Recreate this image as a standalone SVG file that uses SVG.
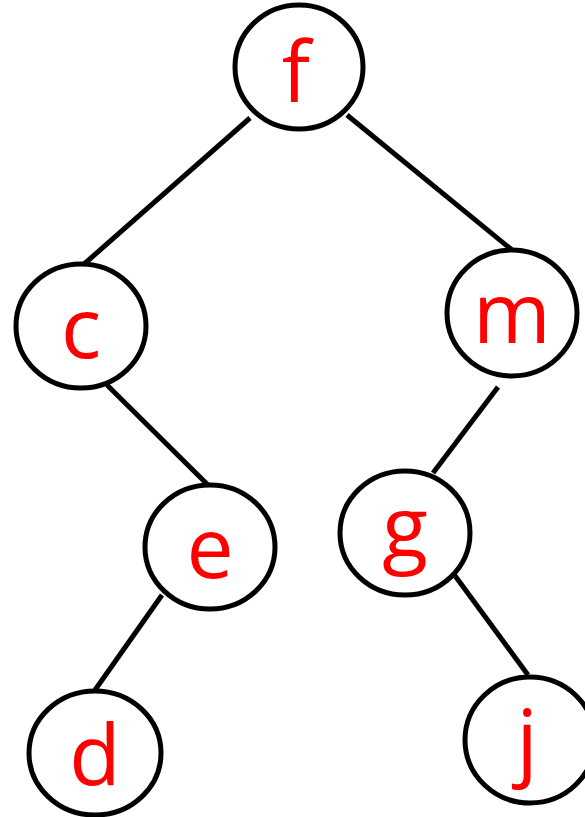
<svg xmlns="http://www.w3.org/2000/svg" width="585" height="817" viewBox="0 0 585 817">
<style>
.n{fill:#fff;stroke:#000;stroke-width:5}
.t{fill:#f00;font-family:"Open Sans","Noto Sans",sans-serif;font-size:84px;text-anchor:middle}
.e{stroke:#000;stroke-width:5;fill:none}
</style>
<rect width="585" height="817" fill="#fff"/>
<g id="edges">
<line class="e" x1="250" y1="118" x2="83" y2="265"/>
<line class="e" x1="347" y1="115" x2="512" y2="250"/>
<line class="e" x1="107" y1="385" x2="208" y2="485"/>
<line class="e" x1="498" y1="387" x2="433" y2="473"/>
<line class="e" x1="162" y1="595" x2="95" y2="690"/>
<line class="e" x1="453" y1="573" x2="528" y2="675"/>
</g>
<g id="f"><ellipse class="n" cx="299" cy="67" rx="64" ry="62"/><text class="t" x="296" y="102">f</text></g>
<g id="c"><ellipse class="n" cx="81" cy="326" rx="65" ry="62"/><text class="t" x="81" y="358">c</text></g>
<g id="m"><ellipse class="n" cx="512" cy="313" rx="65" ry="63"/><text class="t" x="512" y="343">m</text></g>
<g id="e"><ellipse class="n" cx="210" cy="547" rx="65" ry="62"/><text class="t" x="210" y="578">e</text></g>
<g id="g"><ellipse class="n" cx="405" cy="533" rx="65" ry="62"/><text class="t" x="405" y="557">g</text></g>
<g id="d"><ellipse class="n" cx="95" cy="753" rx="66" ry="62"/><text class="t" x="95" y="785">d</text></g>
<g id="j"><ellipse class="n" cx="530" cy="740" rx="65" ry="63"/><text class="t" x="527" y="770">j</text></g>
</svg>
